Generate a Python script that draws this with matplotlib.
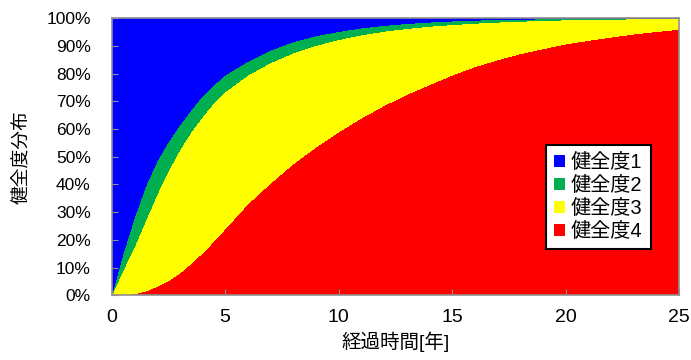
import matplotlib

matplotlib.use("Agg")
import matplotlib.pyplot as plt
from matplotlib.ticker import FuncFormatter

plt.rcParams["font.family"] = ["Liberation Sans", "Noto Sans CJK JP"]

# elapsed years and share (%) of each health grade
years = [0, 0.5, 1, 1.5, 2, 2.5, 3, 3.5, 4, 4.5, 5, 6, 7, 8, 9, 10, 11, 12,
         13, 14, 15, 16, 17, 18, 19, 20, 21, 22, 23, 24, 25]
grade4 = [0, 0, 0.5, 1.5, 3.2, 5.3, 8, 11.5, 15.3, 19.5, 24, 33, 40.5, 47.5,
          53.5, 59, 64, 68.5, 72.5, 76, 79.5, 82.5, 85, 87.2, 89, 90.7, 92,
          93.2, 94.3, 95.2, 96]
grade3 = [0, 9, 17, 25.5, 33.3, 39.7, 44.5, 47.5, 49.2, 50, 49.5, 46.5, 43.5,
          40, 36.7, 33.3, 30, 26.8, 23.8, 21.1, 18.2, 15.7, 13.6, 11.7, 10.2,
          8.7, 7.55, 6.45, 5.45, 4.62, 3.88]
grade2 = [0, 6, 10.5, 12.5, 12, 10.5, 9, 8, 7.5, 6.5, 6, 5, 4.5, 4, 3.5, 2.9,
          2.5, 2.1, 1.8, 1.5, 1.3, 1.1, 0.9, 0.75, 0.55, 0.43, 0.33, 0.27,
          0.2, 0.15, 0.1]
grade1 = [100 - a - b - c for a, b, c in zip(grade4, grade3, grade2)]

labels = ["健全度1", "健全度2", "健全度3", "健全度4"]
colors = ["#0000FF", "#00B050", "#FFFF00", "#FF0000"]


def main():
    fig = plt.figure(figsize=(6.91, 3.6), dpi=100, facecolor="white")
    ax = fig.add_axes([0.1616, 0.18, 0.8213, 0.7694])

    polys = ax.stackplot(years, grade4, grade3, grade2, grade1,
                         colors=colors[::-1], labels=labels[::-1],
                         linewidth=0, antialiased=False)

    ax.set_xlim(0, 25)
    ax.set_ylim(0, 100)
    ax.set_xticks(range(0, 26, 5))
    ax.set_yticks(range(0, 101, 10))
    ax.yaxis.set_major_formatter(FuncFormatter(lambda v, _: f"{v:.0f}%"))
    ax.tick_params(direction="in", length=4, color="#909090")
    ax.tick_params(axis="x", labelsize=14, pad=10)
    ax.tick_params(axis="y", labelsize=12.5, pad=15)
    for sp in ax.spines.values():
        sp.set_color("#909090")
        sp.set_linewidth(1.2)

    ax.set_xlabel("経過時間[年]", fontsize=14, labelpad=4)
    ax.set_ylabel("健全度分布", fontsize=13.5, labelpad=11)

    leg = ax.legend(polys[::-1], labels, loc="upper left",
                    bbox_to_anchor=(0.765, 0.542), borderaxespad=0,
                    fontsize=14.5, fancybox=False, framealpha=1,
                    edgecolor="black", handlelength=0.55, handleheight=0.55,
                    handletextpad=0.3, labelspacing=0.2, borderpad=0.4)
    leg.get_frame().set_linewidth(1.5)

    fig.savefig("out.png", dpi=100, facecolor="white")


if __name__ == "__main__":
    main()
